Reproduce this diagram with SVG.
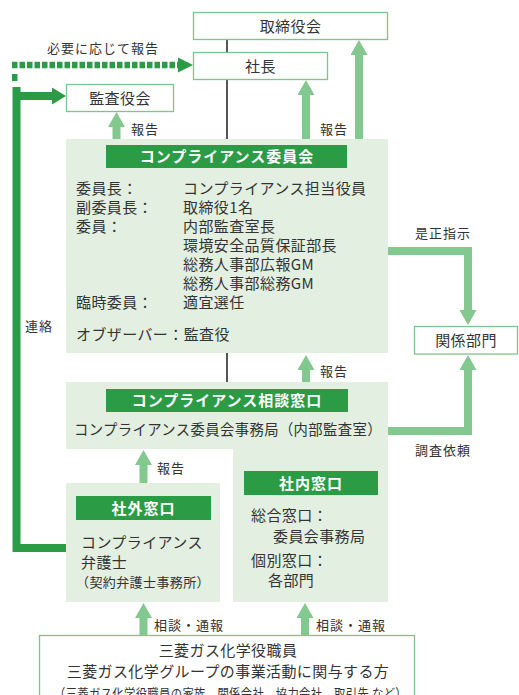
<svg xmlns="http://www.w3.org/2000/svg" width="519" height="695" viewBox="0 0 519 695">
<style>
text{font-family:"Noto Sans CJK JP","Noto Sans",sans-serif;fill:#333;}
.b{font-size:15px;letter-spacing:0.4px;}
.c{text-anchor:middle;}
.lbl{font-size:13px;letter-spacing:1px;}
.hd{font-size:15px;font-weight:bold;fill:#fff;letter-spacing:1px;text-anchor:middle;}
.wbox{fill:#fff;stroke:#80c48d;stroke-width:1.3;}
.gbox{fill:#e3f0e1;}
.bar{fill:#2b9b45;}
.la{fill:none;stroke:#83c88f;stroke-width:8;stroke-linejoin:miter;marker-end:url(#lh);}
.gray{stroke:#555;stroke-width:2;}
.dk{fill:none;stroke:#2b9b45;stroke-width:8;stroke-linejoin:miter;}
</style>
<defs>
<marker id="lh" markerUnits="userSpaceOnUse" viewBox="0 0 15 17" markerWidth="15" markerHeight="17" refX="1" refY="8.5" orient="auto">
<path d="M0,0 L15,8.5 L0,17 Z" fill="#83c88f"/>
</marker>
</defs>

<g id="connectors">
<line class="gray" x1="227" y1="39" x2="227" y2="139"/>
<line class="gray" x1="227" y1="353" x2="227" y2="382"/>
<path class="la" d="M116.5,139 V126"/>
<path class="la" d="M306,139 V94"/>
<path class="la" d="M359,139 V54"/>
<path class="la" d="M387,251 H468 V311"/>
<path class="la" d="M388,431 H468 V369"/>
<path class="la" d="M306,382 V369"/>
<path class="la" d="M143.5,483 V464"/>
<path class="la" d="M143.5,635 V617"/>
<path class="la" d="M305,635 V617"/>
<path d="M12,65 H179" fill="none" stroke="#2b9b45" stroke-width="6.5" stroke-dasharray="5.5 2"/>
<rect x="12" y="74" width="5.5" height="7" fill="#2b9b45"/>
<path d="M178,57.5 L193,65 L178,72.5 Z" fill="#2b9b45"/>
<path class="dk" d="M16.5,87 V548 H66"/>
<path class="dk" d="M16.5,96 H53"/>
<path d="M52,87.5 L66,96 L52,104.5 Z" fill="#2b9b45"/>
<text class="lbl" x="47" y="53">必要に応じて報告</text>
<text class="lbl" x="131" y="134">報告</text>
<text class="lbl" x="320" y="134">報告</text>
<text class="lbl" x="415" y="238">是正指示</text>
<text class="lbl" x="415" y="455">調査依頼</text>
<text class="lbl" x="320" y="376">報告</text>
<text class="lbl" x="157" y="473">報告</text>
<text class="lbl" x="154" y="630">相談・通報</text>
<text class="lbl" x="316" y="630">相談・通報</text>
<text class="lbl" x="25" y="331">連絡</text>
</g>

<g id="board">
<rect class="wbox" x="193.5" y="12.5" width="194" height="27"/>
<text class="b c" x="290.5" y="32">取締役会</text>
</g>
<g id="president">
<rect class="wbox" x="193.5" y="52.5" width="134" height="27"/>
<text class="b c" x="260.5" y="72">社長</text>
</g>
<g id="auditors">
<rect class="wbox" x="66.5" y="84.5" width="107" height="27"/>
<text class="b c" x="120" y="104">監査役会</text>
</g>

<g id="committee">
<rect class="gbox" x="66" y="139" width="322" height="214"/>
<rect class="bar" x="106" y="145" width="241" height="23"/>
<text class="hd" x="227" y="162">コンプライアンス委員会</text>
<text class="b" x="76" y="194">委員長：</text>
<text class="b" x="183" y="194">コンプライアンス担当役員</text>
<text class="b" x="76" y="213">副委員長：</text>
<text class="b" x="183" y="213">取締役1名</text>
<text class="b" x="76" y="232">委員：</text>
<text class="b" x="183" y="232">内部監査室長</text>
<text class="b" x="183" y="251">環境安全品質保証部長</text>
<text class="b" x="183" y="270">総務人事部広報GM</text>
<text class="b" x="183" y="289">総務人事部総務GM</text>
<text class="b" x="76" y="308">臨時委員：</text>
<text class="b" x="183" y="308">適宜選任</text>
<text class="b" x="76" y="340">オブザーバー：監査役</text>
</g>

<g id="departments">
<rect class="wbox" x="414.5" y="326.5" width="103" height="27.5"/>
<text class="b c" x="466" y="346">関係部門</text>
</g>

<g id="consult">
<path class="gbox" d="M66,382 H388 V602 H233 V449 H66 Z"/>
<rect class="bar" x="106" y="389" width="242" height="23"/>
<text class="hd" x="227" y="406">コンプライアンス相談窓口</text>
<text class="b" x="74" y="435" textLength="308" lengthAdjust="spacingAndGlyphs">コンプライアンス委員会事務局（内部監査室）</text>
</g>

<g id="internal">
<rect class="bar" x="244" y="471" width="134" height="24"/>
<text class="hd" x="311" y="488.5">社内窓口</text>
<text class="b" x="251" y="521">総合窓口：</text>
<text class="b" x="273" y="542">委員会事務局</text>
<text class="b" x="251" y="566">個別窓口：</text>
<text class="b" x="268" y="586">各部門</text>
</g>

<g id="external">
<rect class="gbox" x="66" y="483" width="154" height="119"/>
<rect class="bar" x="76" y="496" width="135" height="24"/>
<text class="hd" x="143.5" y="513.5">社外窓口</text>
<text class="b" x="81" y="548">コンプライアンス</text>
<text class="b" x="81" y="568">弁護士</text>
<text class="b" x="76" y="587" style="font-size:13px">（契約弁護士事務所）</text>
</g>

<g id="reporters">
<rect class="wbox" x="39.5" y="635.5" width="375" height="70"/>
<text class="b c" x="228" y="656">三菱ガス化学役職員</text>
<text class="b c" x="228" y="677">三菱ガス化学グループの事業活動に関与する方</text>
<text class="b" x="54" y="698" style="font-size:13px" textLength="353" lengthAdjust="spacingAndGlyphs">（三菱ガス化学役職員の家族、関係会社、協力会社、取引先 など）</text>
</g>
</svg>
